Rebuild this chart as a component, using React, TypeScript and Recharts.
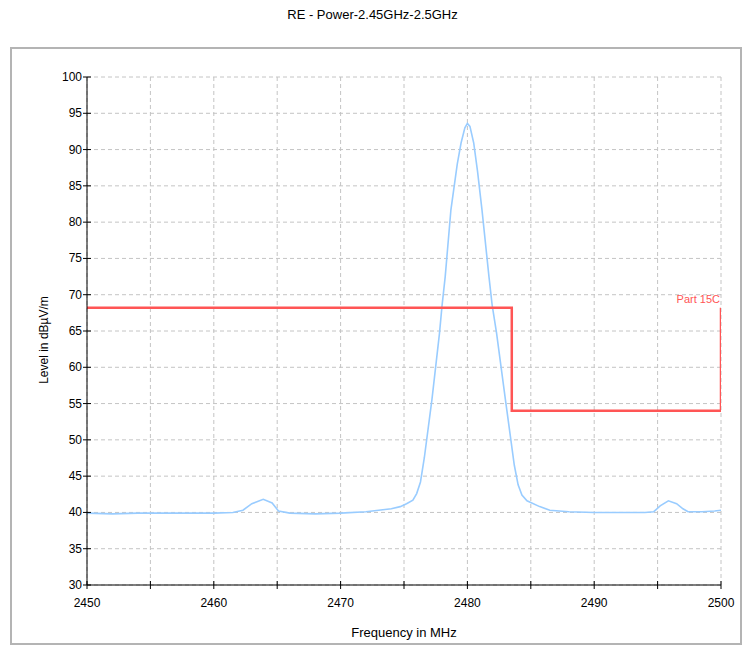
import { LineChart, Line, XAxis, YAxis, CartesianGrid } from 'recharts';

// measured trace (MHz / dBµV/m)
const traceFreq = [
  2450, 2452, 2454, 2456, 2458, 2460, 2461.5, 2462.3, 2463, 2463.9, 2464.6, 2465.1, 2466, 2468, 2470,
  2472, 2473, 2474, 2474.7, 2475.2, 2475.7, 2476.0, 2476.3, 2476.6, 2477.2, 2477.8, 2478.0, 2478.25,
  2478.7, 2479.2, 2479.5, 2479.8, 2480.0, 2480.2, 2480.5, 2480.8, 2481.15, 2481.7, 2481.95, 2482.3,
  2483.0, 2483.7, 2484.0, 2484.3, 2484.7, 2485.7, 2486.5, 2488, 2490, 2492, 2494, 2494.7, 2495.2,
  2495.85, 2496.5, 2497.0, 2497.4, 2498.5, 2499.5, 2500,
];
const traceLevel = [
  39.9, 39.8, 39.9, 39.9, 39.9, 39.9, 40.0, 40.3, 41.2, 41.8, 41.3, 40.2, 39.9, 39.8, 39.9,
  40.1, 40.3, 40.5, 40.8, 41.2, 41.7, 42.6, 44.2, 47.5, 55.5, 64.7, 68.5, 72.5,
  81.7, 88.0, 90.9, 93.0, 93.6, 93.2, 90.9, 87.0, 81.7, 72.5, 68.6, 64.7,
  55.5, 46.5, 43.8, 42.4, 41.6, 40.8, 40.3, 40.1, 40.0, 40.0, 40.0, 40.1, 40.9,
  41.6, 41.2, 40.5, 40.1, 40.1, 40.2, 40.3,
];

// Part 15C limit
const limitFreq = [2450, 2483.5, 2483.5, 2500, 2500];
const limitLevel = [68.2, 68.2, 54, 54, 68.2];
const limitName = 'Part 15C';

const xTicks = [2450, 2455, 2460, 2465, 2470, 2475, 2480, 2485, 2490, 2495, 2500];
const yTicks = [
  30, 32.5, 35, 37.5, 40, 42.5, 45, 47.5, 50, 52.5, 55, 57.5, 60, 62.5, 65, 67.5,
  70, 72.5, 75, 77.5, 80, 82.5, 85, 87.5, 90, 92.5, 95, 97.5, 100,
];

const traceData = traceFreq.map((f, i) => ({ f, level: traceLevel[i] }));
const limitData = limitFreq.map((f, i) => ({ f, limit: limitLevel[i] }));

const FONT = '"Liberation Sans", Arial, sans-serif';

const YTick = ({ x, y, payload }: any) => (
  <g>
    <line x1={x - 4} x2={x + 4} y1={y} y2={y} stroke="#000" />
    {payload.value % 5 === 0 && (
      <text x={x - 5} y={y} dy={4} textAnchor="end" fontSize={12} fill="#000" fontFamily={FONT}>
        {payload.value}
      </text>
    )}
  </g>
);

const XTick = ({ x, y, payload }: any) => (
  <g>
    <line x1={x} x2={x} y1={y - 4} y2={y + 4} stroke="#000" />
    {payload.value % 10 === 0 && (
      <text x={x} y={y} dy={22} textAnchor="middle" fontSize={12} fill="#000" fontFamily={FONT}>
        {payload.value}
      </text>
    )}
  </g>
);

export default function App() {
  const lastIdx = limitData.length - 1;
  return (
    <div style={{ position: 'absolute', left: 0, top: 0, width: 745, height: 646, background: '#fff', fontFamily: FONT }}>
      <div style={{ position: 'absolute', top: 7, left: 0, width: 745, textAlign: 'center', fontSize: 13, color: '#000' }}>
        RE - Power-2.45GHz-2.5GHz
      </div>
      <div
        style={{
          position: 'absolute',
          left: 10,
          top: 47,
          width: 728,
          height: 594,
          border: '2px solid #b4b4b4',
        }}
      />
      <div style={{ position: 'absolute', left: 0, top: 0 }}>
        <LineChart width={745} height={646} margin={{ top: 77, right: 24, bottom: 0, left: 0 }}>
          <CartesianGrid stroke="#c4c4c4" strokeDasharray="4 3" />
          <XAxis
            dataKey="f"
            type="number"
            domain={[2450, 2500]}
            ticks={xTicks}
            allowDataOverflow
            height={61}
            tickSize={0}
            tickMargin={0}
            tickLine={false}
            axisLine={{ stroke: '#000' }}
            tick={<XTick />}
            label={{
              content: () => (
                <text x={404} y={637} textAnchor="middle" fontSize={13} fill="#000" fontFamily={FONT}>
                  Frequency in MHz
                </text>
              ),
            }}
          />
          <YAxis
            type="number"
            domain={[30, 100]}
            ticks={yTicks}
            allowDataOverflow
            width={87}
            tickSize={0}
            tickMargin={0}
            tickLine={false}
            axisLine={{ stroke: '#000' }}
            tick={<YTick />}
            label={{
              content: () => (
                <text
                  x={48}
                  y={340}
                  transform="rotate(-90 48 340)"
                  textAnchor="middle"
                  fontSize={12}
                  fill="#000"
                  fontFamily={FONT}
                >
                  Level in dBµV/m
                </text>
              ),
            }}
          />
          <Line
            data={traceData}
            dataKey="level"
            type="linear"
            stroke="#99ccff"
            strokeWidth={1.6}
            dot={false}
            isAnimationActive={false}
          />
          <Line
            data={limitData}
            dataKey="limit"
            type="linear"
            stroke="#ff5555"
            strokeWidth={2.5}
            dot={false}
            isAnimationActive={false}
            label={(props: any) =>
              props.index === lastIdx ? (
                <text
                  key="lim-label"
                  x={props.x - 1}
                  y={props.y - 5}
                  textAnchor="end"
                  fontSize={11}
                  fill="#ff5555"
                  fontFamily={FONT}
                >
                  {limitName}
                </text>
              ) : (
                <g key={`l${props.index}`} />
              )
            }
          />
        </LineChart>
      </div>
    </div>
  );
}
